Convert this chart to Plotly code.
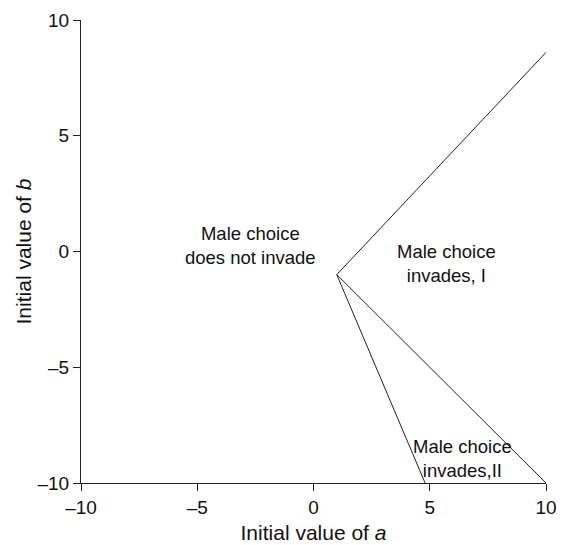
import plotly.graph_objects as go

vertex = (1, -1)
line_ends_x = [10, 10, 4.8]
line_ends_y = [8.6, -10, -10]

labels = ["Male choice<br>does not invade", "Male choice<br>invades, I", "Male choice<br>invades,II"]
label_x = [-2.7, 5.7, 6.4]
label_y = [0.25, -0.5, -8.95]

tick_vals = [-10, -5, 0, 5, 10]
tick_text = ["\u201310", "\u20135", "0", "5", "10"]

FONT = "Liberation Sans, Arial, Helvetica"

fig = go.Figure()
for ex, ey in zip(line_ends_x, line_ends_y):
    fig.add_trace(go.Scatter(x=[vertex[0], ex], y=[vertex[1], ey], mode="lines",
                             line=dict(color="#222222", width=1), showlegend=False,
                             hoverinfo="skip"))

for t, x, y in zip(labels, label_x, label_y):
    fig.add_annotation(x=x, y=y, text=t, showarrow=False,
                       font=dict(size=18.5, color="#111111", family=FONT),
                       align="center")

axis_common = dict(range=[-10, 10], tickvals=tick_vals, ticktext=tick_text,
                   showgrid=False, zeroline=False,
                   showline=True, linecolor="#222222", linewidth=1, ticks="outside",
                   ticklen=7, tickcolor="#222222", mirror=False, automargin=False,
                   tickfont=dict(size=19, color="#111111", family=FONT))

fig.update_xaxes(**axis_common,
                 title=dict(text="Initial value of <i>a</i>", standoff=8,
                            font=dict(size=21, color="#111111", family=FONT)))
fig.update_yaxes(**axis_common,
                 title=dict(text="Initial value of <i>b</i>", standoff=0,
                            font=dict(size=21, color="#111111", family=FONT)))

fig.update_layout(width=562, height=545, plot_bgcolor="white", paper_bgcolor="white",
                  margin=dict(l=81, r=16, t=20, b=62))

fig.write_html("out.html", config={"displayModeBar": False},
               post_script="document.body.style.margin='0';document.body.style.padding='0';")
